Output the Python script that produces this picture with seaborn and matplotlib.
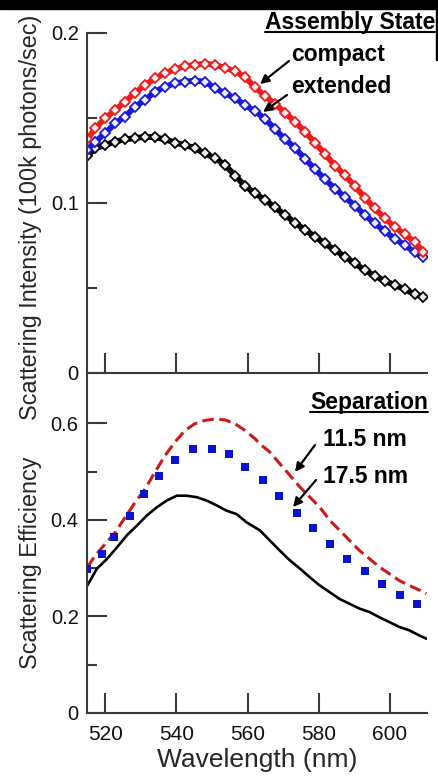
import numpy as np
import pandas as pd
import matplotlib
matplotlib.use("Agg")
import matplotlib.pyplot as plt
from matplotlib.lines import Line2D
from matplotlib.patches import Rectangle, FancyArrowPatch
import seaborn as sns

# ---- data ----
# top panel: scattering intensity (100k photons/sec) vs wavelength
wl_top = [515.0, 517.2, 520.0, 522.8, 525.6, 528.4, 531.2, 534.0, 536.8, 539.6,
          542.4, 545.2, 548.0, 550.9, 553.7, 556.5, 559.3, 562.1, 564.9, 567.7,
          570.5, 573.3, 576.1, 578.9, 581.7, 584.5, 587.3, 590.1, 592.9, 595.7,
          598.5, 601.3, 604.1, 606.9, 609.3]
compact = [0.1375, 0.1439, 0.1498, 0.1547, 0.1596, 0.1649, 0.1694, 0.1733, 0.1763, 0.1786,
           0.1806, 0.1812, 0.1820, 0.1812, 0.1795, 0.1775, 0.1740, 0.1680, 0.1630, 0.1582,
           0.1532, 0.1478, 0.1420, 0.1355, 0.1290, 0.1220, 0.1165, 0.1100, 0.1032, 0.0968,
           0.0910, 0.0860, 0.0815, 0.0772, 0.0714]
extended = [0.1312, 0.1361, 0.1410, 0.1469, 0.1508, 0.1567, 0.1606, 0.1655, 0.1684, 0.1704,
            0.1714, 0.1720, 0.1714, 0.1675, 0.1645, 0.1616, 0.1576, 0.1540, 0.1495, 0.1435,
            0.1375, 0.1325, 0.1260, 0.1200, 0.1140, 0.1085, 0.1035, 0.0985, 0.0930, 0.0880,
            0.0835, 0.0790, 0.0753, 0.0710, 0.0684]
single = [0.1276, 0.1322, 0.1341, 0.1361, 0.1375, 0.1381, 0.1390, 0.1386, 0.1375, 0.1355,
          0.1341, 0.1322, 0.1292, 0.1263, 0.1224, 0.1160, 0.1100, 0.1057, 0.1018, 0.0974,
          0.0930, 0.0885, 0.0842, 0.0802, 0.0762, 0.0724, 0.0685, 0.0645, 0.0605, 0.0572,
          0.0542, 0.0518, 0.0493, 0.0463, 0.0449]

# bottom panel: scattering efficiency
wl_red = [515.0, 517.2, 520.0, 522.8, 525.6, 528.4, 531.2, 534.0, 536.8, 539.6,
          542.4, 545.2, 548.0, 550.9, 553.7, 556.5, 559.3, 562.1, 563.5, 566.3,
          569.1, 571.9, 574.7, 577.5, 580.3, 583.1, 585.9, 588.7, 591.5, 594.3,
          597.1, 599.9, 602.7, 605.5, 608.4, 610.2]
sep_11 = [0.302, 0.326, 0.350, 0.374, 0.405, 0.436, 0.464, 0.499, 0.533, 0.561,
          0.585, 0.599, 0.606, 0.609, 0.607, 0.599, 0.585, 0.568, 0.557, 0.540,
          0.516, 0.492, 0.468, 0.447, 0.426, 0.399, 0.378, 0.357, 0.336, 0.319,
          0.302, 0.288, 0.274, 0.264, 0.254, 0.247]

wl_blue = [515.0, 519.1, 522.6, 527.0, 531.0, 535.1, 539.6, 544.6, 549.9, 554.7,
           559.4, 564.4, 568.9, 573.8, 578.3, 583.1, 588.0, 593.0, 597.9, 602.7, 607.6]
sep_17 = [0.299, 0.330, 0.364, 0.409, 0.454, 0.490, 0.523, 0.546, 0.546, 0.537,
          0.509, 0.483, 0.450, 0.414, 0.383, 0.349, 0.319, 0.294, 0.267, 0.245, 0.226]

wl_black = [515.0, 517.7, 520.5, 523.3, 526.1, 528.9, 531.7, 534.5, 537.3, 540.1,
            542.9, 545.7, 548.5, 551.3, 554.1, 556.9, 559.7, 563.5, 566.3, 569.1,
            571.9, 574.7, 577.5, 580.3, 583.1, 585.9, 588.7, 591.5, 594.3, 597.1,
            599.9, 602.7, 605.5, 608.4, 610.2]
single_eff = [0.264, 0.299, 0.319, 0.343, 0.368, 0.388, 0.409, 0.426, 0.440, 0.450,
              0.450, 0.447, 0.440, 0.430, 0.419, 0.412, 0.395, 0.378, 0.357, 0.336,
              0.316, 0.299, 0.281, 0.264, 0.250, 0.236, 0.226, 0.216, 0.209, 0.198,
              0.188, 0.178, 0.171, 0.160, 0.154]

xticks = [520, 540, 560, 580, 600]
top_yticks = [0, 0.1, 0.2]
top_ylabels = ["0", "0.1", "0.2"]
top_yminor = [0.05, 0.15]
bot_yticks = [0, 0.2, 0.4, 0.6]
bot_ylabels = ["0", "0.2", "0.4", "0.6"]
bot_yminor = [0.1, 0.3, 0.5]

RED = "#ee1c1c"
BLUE = "#1a1ad6"
DRED = "#cc1a1a"
SQ_BLUE = "#0a14cc"
SPINE = "#3a3a3a"

sns.set_style("ticks")
plt.rcParams["font.family"] = ["Liberation Sans", "DejaVu Sans"]

W, H = 439, 777
fig = plt.figure(figsize=(W / 100, H / 100), dpi=100)
fig.patch.set_facecolor("white")


def px(x, y):
    return (x / W, 1 - y / H)


ax1 = fig.add_axes([87 / W, (H - 373) / H, 340 / W, 340 / H])
ax2 = fig.add_axes([87 / W, (H - 713) / H, 340 / W, 338 / H])

top = pd.DataFrame({"wl": wl_top, "compact": compact, "extended": extended, "single": single})
for col, c in [("single", "black"), ("extended", BLUE), ("compact", RED)]:
    sns.lineplot(data=top, x="wl", y=col, ax=ax1, color=c, lw=4.2,
                 marker="D", markersize=5.2, markerfacecolor="#eeeeee",
                 markeredgecolor=c, markeredgewidth=1.3, estimator=None, sort=False)

sns.lineplot(x=wl_black, y=single_eff, ax=ax2, color="black", lw=1.9,
             estimator=None, sort=False)
sns.lineplot(x=wl_red, y=sep_11, ax=ax2, color=DRED, lw=2.2,
             linestyle=(0, (3.8, 1.8)), estimator=None, sort=False)
sns.scatterplot(x=wl_blue, y=sep_17, ax=ax2, color=SQ_BLUE, marker="s", s=32,
                linewidth=0, zorder=3)

for ax, yt, yl, ym, ylim in [(ax1, top_yticks, top_ylabels, top_yminor, 0.2),
                             (ax2, bot_yticks, bot_ylabels, bot_yminor, 0.7)]:
    ax.set_xlim(514.9, 610.4)
    ax.set_ylim(0, ylim)
    ax.set_xticks(xticks)
    ax.set_yticks(yt)
    ax.set_yticklabels(yl)
    ax.set_yticks(ym, minor=True)
    ax.set_facecolor("white")
    for s in ["top", "right"]:
        ax.spines[s].set_visible(False)
    for s in ["left", "bottom"]:
        ax.spines[s].set_linewidth(1.5)
        ax.spines[s].set_color(SPINE)
    ax.tick_params(axis="both", which="major", direction="in", length=14.5,
                   width=1.5, color=SPINE, labelcolor="#111111")
    ax.tick_params(axis="y", which="minor", direction="in", length=7.2,
                   width=1.5, color=SPINE)
    ax.tick_params(axis="y", which="major", labelsize=14.5, pad=6)
    ax.tick_params(axis="x", which="major", labelsize=15, pad=9)
    ax.set_xlabel("")

ax1.tick_params(axis="x", labelbottom=False)

ax1.set_ylabel("Scattering Intensity (100k photons/sec)", fontsize=16.8,
               va="center", ha="center")
ax1.yaxis.set_label_coords(-0.165, 0.457)
ax2.set_ylabel("Scattering Efficiency", fontsize=16.8, va="center", ha="center")
ax2.yaxis.set_label_coords(-0.165, 0.445)
ax2.set_xlabel("Wavelength (nm)", fontsize=19, va="center")
ax2.xaxis.set_label_coords(0.5, -0.139)

# annotations
bold = dict(fontsize=16.5, fontweight="bold", color="black")
t_state = fig.text(*px(435, 29.5), "Assembly State", ha="right", va="baseline", **bold)
fig.text(*px(291, 61), "compact", ha="left", va="baseline", **bold)
fig.text(*px(291, 93), "extended", ha="left", va="baseline", **bold)
t_sep = fig.text(*px(428, 409), "Separation", ha="right", va="baseline", **bold)
fig.text(*px(323, 446), "11.5 nm", ha="left", va="baseline", **bold)
fig.text(*px(323, 483), "17.5 nm", ha="left", va="baseline", **bold)

arrows = [((289, 61), (260, 84)), ((287, 95), (263, 112)),
          ((315, 445), (295, 472)), ((316, 480), (293, 507))]
for tail, head in arrows:
    fig.add_artist(FancyArrowPatch(
        px(*tail), px(*head), transform=fig.transFigure, arrowstyle="-|>",
        mutation_scale=13, lw=1.6, color="black", shrinkA=0, shrinkB=0))

# underlines under the two headings
fig.canvas.draw()
rend = fig.canvas.get_renderer()
for t, uy in [(t_state, 32), (t_sep, 412)]:
    bb = t.get_window_extent(rend)
    fig.add_artist(Line2D([bb.x0 / W, bb.x1 / W], [1 - uy / H, 1 - uy / H],
                          transform=fig.transFigure, color="black", lw=1.5))

# black frame remnants at the top of the picture
fig.add_artist(Rectangle((0, 1 - 9 / H), 1, 9 / H, transform=fig.transFigure,
                         color="black", zorder=10))
fig.add_artist(Rectangle((1 - 3 / W, 1 - 60 / H), 3 / W, 60 / H,
                         transform=fig.transFigure, color="black", zorder=10))

fig.savefig("out.png", dpi=100)
